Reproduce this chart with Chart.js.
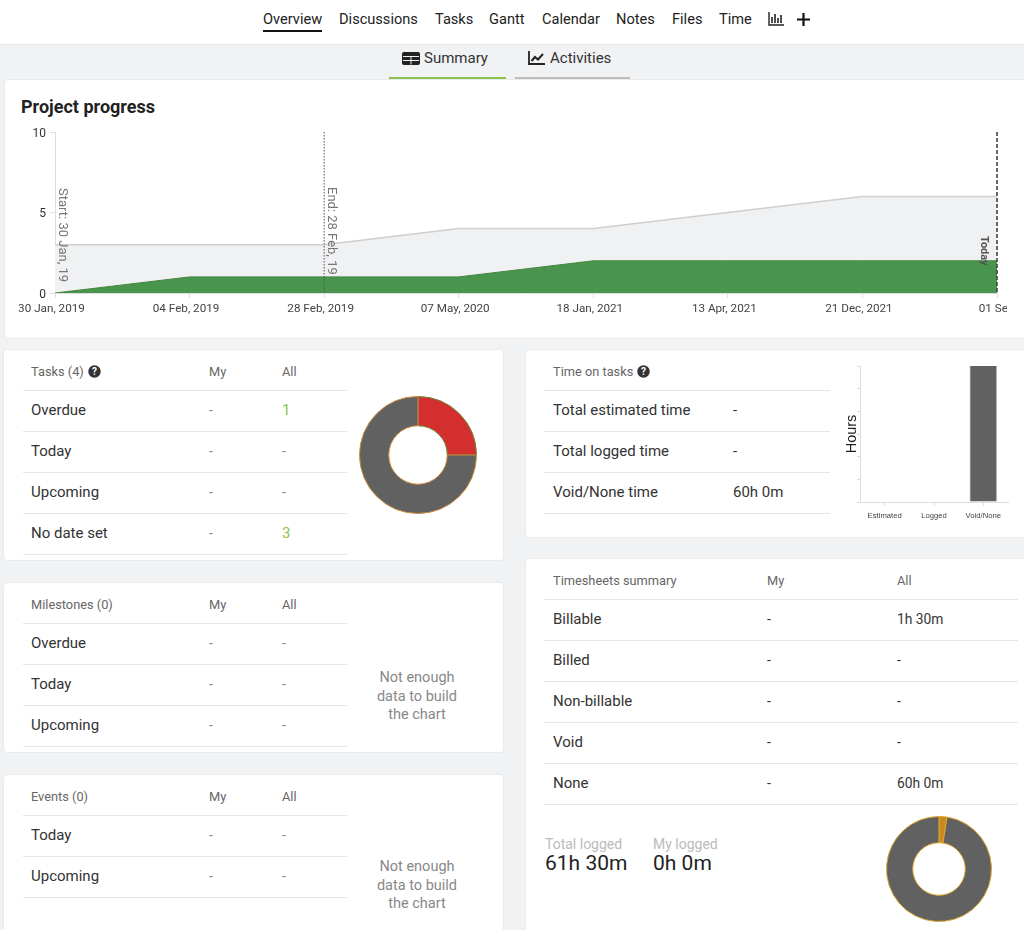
<!DOCTYPE html>
<html>
<head>
<meta charset="utf-8">
<title>Overview</title>
<script src="https://cdn.jsdelivr.net/npm/chart.js@4"></script>
<style>
  html, body { margin: 0; padding: 0; }
  body { width: 1024px; height: 930px; position: relative; overflow: hidden; background: #f1f2f4; font-family: Roboto, sans-serif; color: #333; }
  .abs { position: absolute; white-space: nowrap; transform: translateY(-50%); line-height: 1.2; }
  .nav { position: absolute; left: 0; top: 0; width: 1024px; height: 44px; background: #fff; border-bottom: 1px solid #e6e6e6; }
  .card { position: absolute; background: #fff; border: 1px solid #e9eaec; border-radius: 4px; box-sizing: border-box; }
  .line { position: absolute; height: 1px; background: #e6e6e6; }
  .bar { position: absolute; }
  canvas { position: absolute; display: block; }
  svg { position: absolute; }
  .head { font-size: 12.8px; color: #666; }
  .row { font-size: 15px; color: #333; }
  .dash { font-size: 14px; color: #888; }
  .dark { font-size: 14px; color: #333; }
  .green { font-size: 15px; color: #8bc34a; }
  .val { font-size: 13.8px; color: #333; }
  .val2 { font-size: 15px; color: #333; }
  .nada { font-size: 14.5px; color: #888; width: 100px; text-align: center; white-space: normal; line-height: 18.6px; }
</style>
</head>
<body>
<div class="nav"></div>
<div class="bar" style="left:263px;top:30px;width:59px;height:2px;background:#111"></div>
<div class="bar" style="left:389px;top:77px;width:117px;height:3px;background:#8bc34a"></div>
<div class="bar" style="left:515px;top:77px;width:115px;height:3px;background:#bdbdbd"></div>

<svg style="left:768px;top:12px" width="17" height="14" viewBox="0 0 17 14"><path d="M1 0v13h15" fill="none" stroke="#222" stroke-width="1.4"/><path d="M4 5v6M7 2v9M10 6v5M13 3v8" stroke="#222" stroke-width="1.6"/></svg>
<svg style="left:797px;top:13px" width="13" height="13" viewBox="0 0 13 13"><path d="M6.5 0v13M0 6.5h13" stroke="#111" stroke-width="2.2"/></svg>
<svg style="left:402px;top:52px" width="18" height="13" viewBox="0 0 18 13"><rect width="18" height="13" rx="2" fill="#222"/><path d="M1 4.5h16M1 8.5h16M9 4.5v8" stroke="#f1f2f4" stroke-width="1"/></svg>
<svg style="left:528px;top:51px" width="17" height="14" viewBox="0 0 17 14"><path d="M1 0v13h16" fill="none" stroke="#222" stroke-width="1.8"/><path d="M3.5 10l3.5-4 3 2.5L15 3" fill="none" stroke="#222" stroke-width="2"/></svg>

<div class="card" style="left:4px;top:79px;width:1030px;height:260px"></div>
<div class="card" style="left:3px;top:349px;width:501px;height:212px"></div>
<div class="card" style="left:3px;top:582px;width:501px;height:171px"></div>
<div class="card" style="left:3px;top:774px;width:501px;height:200px"></div>
<div class="card" style="left:525px;top:349px;width:510px;height:189px"></div>
<div class="card" style="left:525px;top:558px;width:510px;height:420px"></div>

<canvas id="progressChart" style="left:19px;top:125px" width="988" height="198"></canvas>
<canvas id="tasksChart" style="left:353px;top:390px" width="130" height="130"></canvas>
<canvas id="timeChart" style="left:843px;top:358px" width="175" height="171"></canvas>
<canvas id="sheetsChart" style="left:879px;top:809px" width="120" height="120"></canvas>

<div id="textos"></div>

<script>
//? DATOS DE LOS GRAFICOS

const fechas = ["30 Jan, 2019", "04 Feb, 2019", "28 Feb, 2019", "07 May, 2020", "18 Jan, 2021", "13 Apr, 2021", "21 Dec, 2021", "01 Sep, 2022"];
const totalTareas = [3, 3, 3, 4, 4, 5, 6, 6];
const tareasHechas = [0, 1, 1, 1, 2, 2, 2, 2];
const ticksProgreso = [0, 5, 10];
const tareasLabels = ["Overdue", "No date set"];
const tareasValores = [1, 3];
const tiempoLabels = ["Estimated", "Logged", "Void/None"];
const tiempoValores = [0, 0, 60];
const hojasLabels = ["Billable", "None"];
const hojasValores = [1.5, 60];

//? TEXTOS DE LAS TARJETAS

const menu = [["Overview", 263], ["Discussions", 339], ["Tasks", 435], ["Gantt", 489], ["Calendar", 542], ["Notes", 616], ["Files", 672], ["Time", 719]];
const tareasFilas = [["Overdue", "-", "1"], ["Today", "-", "-"], ["Upcoming", "-", "-"], ["No date set", "-", "3"]];
const hitosFilas = [["Overdue", "-", "-"], ["Today", "-", "-"], ["Upcoming", "-", "-"]];
const eventosFilas = [["Today", "-", "-"], ["Upcoming", "-", "-"]];
const tiempoFilas = [["Total estimated time", "-"], ["Total logged time", "-"], ["Void/None time", "60h 0m"]];
const hojasFilas = [["Billable", "-", "1h 30m"], ["Billed", "-", "-"], ["Non-billable", "-", "-"], ["Void", "-", "-"], ["None", "-", "60h 0m"]];

const textos = document.getElementById("textos");

function texto(x, y, str, cls, style) {
  const el = document.createElement("div");
  el.className = "abs " + (cls || "");
  el.style.left = x + "px";
  el.style.top = y + "px";
  if (style) el.style.cssText += style;
  el.textContent = str;
  textos.appendChild(el);
  return el;
}

function linea(x, y, w) {
  const el = document.createElement("div");
  el.className = "line";
  el.style.cssText = `left:${x}px;top:${y}px;width:${w}px`;
  textos.appendChild(el);
}

function ayuda(x, y) {
  const el = document.createElementNS("http://www.w3.org/2000/svg", "svg");
  el.setAttribute("width", 13);
  el.setAttribute("height", 13);
  el.setAttribute("viewBox", "0 0 13 13");
  el.style.left = x + "px";
  el.style.top = y + "px";
  el.innerHTML = '<circle cx="6.5" cy="6.5" r="6.2" fill="#333"/><text x="6.5" y="10" font-size="10" font-weight="700" font-family="Roboto" text-anchor="middle" fill="#fff">?</text>';
  textos.appendChild(el);
}

//? TABLA DE TRES COLUMNAS

function tabla(titulo, filas, yHead, xLabel, xMy, xAll, xLinea, wLinea, yLineas, paso, claseGuion) {
  texto(xLabel, yHead, titulo, "head");
  texto(xMy, yHead, "My", "head");
  texto(xAll, yHead, "All", "head");
  linea(xLinea, yLineas, wLinea);
  filas.forEach((fila, i) => {
    const yFila = yLineas + paso * i + 20;
    texto(xLabel, yFila, fila[0], "row");
    texto(xMy, yFila, fila[1], claseGuion);
    const esNumero = /^\d+$/.test(fila[2]);
    texto(xAll, yFila, fila[2], esNumero ? "green" : (fila[2] === "-" ? claseGuion : "val"));
    linea(xLinea, yLineas + paso * (i + 1), wLinea);
  });
}

menu.forEach(([nombre, x]) => texto(x, 19.5, nombre, "", "font-size:14.6px;color:#222"));
texto(424, 58, "Summary", "", "font-size:15px;color:#333");
texto(550, 58, "Activities", "", "font-size:15px;color:#333");
texto(21, 107, "Project progress", "", "font-size:18px;font-weight:700;color:#222");

tabla("Tasks (4)", tareasFilas, 371.5, 31, 209, 282, 23, 324, 390, 41, "dash");
ayuda(88, 365);
tabla("Milestones (0)", hitosFilas, 604.5, 31, 209, 282, 23, 324, 623, 41, "dash");
tabla("Events (0)", eventosFilas, 796.5, 31, 209, 282, 23, 324, 815, 41, "dash");
texto(367, 697, "Not enough data to build the chart", "nada");
texto(367, 886, "Not enough data to build the chart", "nada");

texto(553, 371.5, "Time on tasks", "head");
ayuda(637, 365);
linea(544, 390, 286);
tiempoFilas.forEach((fila, i) => {
  const yFila = 410 + 41 * i;
  texto(553, yFila, fila[0], "row");
  texto(733, yFila, fila[1], "val2");
  linea(544, 390 + 41 * (i + 1), 286);
});

tabla("Timesheets summary", hojasFilas, 580.5, 553, 767, 897, 544, 474, 599, 41, "dark");

texto(545, 844, "Total logged", "", "font-size:14px;color:#bbb");
texto(653, 844, "My logged", "", "font-size:14px;color:#bbb");
texto(545, 864, "61h 30m", "", "font-size:21px;color:#222");
texto(653, 864, "0h 0m", "", "font-size:21px;color:#222");

//? PLUGIN DE LINEAS VERTICALES

const marcasPlugin = {
  id: "marcas",
  afterDatasetsDraw(chart) {
    const { ctx, scales: { x }, chartArea } = chart;
    const marcas = [
      { i: 2, dash: [1.5, 1.5], width: 1, color: "#555" },
      { i: 7, dash: [4, 2], width: 1.6, color: "#444" },
    ];
    marcas.forEach((m) => {
      ctx.save();
      ctx.strokeStyle = m.color;
      ctx.lineWidth = m.width;
      ctx.setLineDash(m.dash);
      ctx.beginPath();
      ctx.moveTo(x.getPixelForValue(m.i), chartArea.top);
      ctx.lineTo(x.getPixelForValue(m.i), chartArea.bottom);
      ctx.stroke();
      ctx.restore();
    });
    const etiquetas = [
      { i: 0, str: "Start: 30 Jan, 19", dx: 7, top: 56, font: "13px Roboto", color: "#777" },
      { i: 2, str: "End: 28 Feb, 19", dx: 7, top: 55, font: "13px Roboto", color: "#777" },
      { i: 7, str: "Today", dx: -13, top: 104, font: "bold 11px Roboto", color: "#555" },
    ];
    etiquetas.forEach((e) => {
      ctx.save();
      ctx.translate(x.getPixelForValue(e.i) + e.dx, chartArea.top + e.top);
      ctx.rotate(Math.PI / 2);
      ctx.font = e.font;
      ctx.fillStyle = e.color;
      ctx.textAlign = "left";
      ctx.textBaseline = "middle";
      ctx.fillText(e.str, 0, 0);
      ctx.restore();
    });
  },
};

//? GRAFICO DE PROGRESO

new Chart("progressChart", {
  type: "line",
  data: {
    labels: fechas,
    datasets: [
      { label: "Done", data: tareasHechas, borderColor: "#43853f", backgroundColor: "#4a954d", borderWidth: 1, fill: "origin", pointRadius: 0, tension: 0 },
      { label: "Total", data: totalTareas, borderColor: "#cfcfcf", backgroundColor: "#f0f1f3", borderWidth: 1.5, fill: "origin", pointRadius: 0, tension: 0 },
    ],
  },
  options: {
    responsive: false,
    animation: false,
    layout: { padding: { top: 7, right: 10, left: 0, bottom: 0 } },
    plugins: { legend: { display: false }, tooltip: { enabled: false } },
    scales: {
      x: {
        grid: { drawOnChartArea: false, color: "#ddd", tickLength: 5 },
        border: { color: "#ddd" },
        ticks: {
          autoSkip: false,
          maxRotation: 0,
          minRotation: 0,
          padding: 4,
          labelOffset: -3.5,
          color: "#444",
          font: { family: "Roboto", size: 11.7 },
          // la ultima fecha queda corrida a la derecha y se corta, igual que el original
          callback: (valor, i) => (i === fechas.length - 1 ? "\u00A0".repeat(13) : "") + fechas[i],
        },
        afterFit(scale) { scale.paddingLeft = 0; scale.paddingRight = 0; scale.height = 30; },
      },
      y: {
        min: 0,
        max: 10,
        afterBuildTicks(scale) { scale.ticks = ticksProgreso.map((value) => ({ value })); },
        grid: { drawOnChartArea: false, color: "#ddd", tickLength: 5 },
        border: { color: "#ddd" },
        ticks: { color: "#333", padding: 4, labelOffset: 1.5, font: { family: "Roboto", size: 12 } },
        afterFit(scale) { scale.width = 36; scale.paddingTop = 0; scale.paddingBottom = 0; },
      },
    },
  },
  plugins: [marcasPlugin],
});

//? GRAFICO DE TAREAS

new Chart("tasksChart", {
  type: "doughnut",
  data: {
    labels: tareasLabels,
    datasets: [{ data: tareasValores, backgroundColor: ["#d32f2f", "#616161"], borderColor: ["#6f8a3a", "#d08a3c"], borderWidth: 1 }],
  },
  options: {
    responsive: false,
    animation: false,
    cutout: "50%",
    layout: { padding: 6 },
    plugins: { legend: { display: false }, tooltip: { enabled: false } },
  },
});

//? GRAFICO DE TIEMPO

new Chart("timeChart", {
  type: "bar",
  data: {
    labels: tiempoLabels,
    datasets: [{ data: tiempoValores, backgroundColor: "#616161", borderColor: "#d5d5d5", borderWidth: { left: 1, right: 1 }, barPercentage: 0.71, categoryPercentage: 0.8 }],
  },
  options: {
    responsive: false,
    animation: false,
    layout: { padding: { top: 8, right: 10, left: 0, bottom: 0 } },
    plugins: { legend: { display: false }, tooltip: { enabled: false } },
    scales: {
      x: {
        grid: { drawOnChartArea: false, color: "#ddd", tickLength: 4, offset: false },
        border: { color: "#ddd" },
        ticks: { autoSkip: false, maxRotation: 0, padding: 5, color: "#444", font: { family: "Liberation Sans", size: 7.7 } },
        afterFit(scale) { scale.paddingLeft = 0; scale.paddingRight = 0; scale.height = 27; },
      },
      y: {
        min: 0,
        max: 60,
        ticks: { stepSize: 10, callback: () => "", padding: 0 },
        title: { display: true, text: "Hours", color: "#222", padding: 0, font: { family: "Liberation Sans", size: 14.5 } },
        grid: { drawOnChartArea: false, color: "#ddd", tickLength: 3 },
        border: { color: "#ddd" },
        afterFit(scale) { scale.width = 17; },
      },
    },
  },
});

//? GRAFICO DE HOJAS DE TIEMPO

new Chart("sheetsChart", {
  type: "doughnut",
  data: {
    labels: hojasLabels,
    datasets: [{ data: hojasValores, backgroundColor: ["#c98a1c", "#616161"], borderColor: "#e0a82e", borderWidth: 1 }],
  },
  options: {
    responsive: false,
    animation: false,
    cutout: "50%",
    layout: { padding: 7 },
    plugins: { legend: { display: false }, tooltip: { enabled: false } },
  },
});
</script>
</body>
</html>
